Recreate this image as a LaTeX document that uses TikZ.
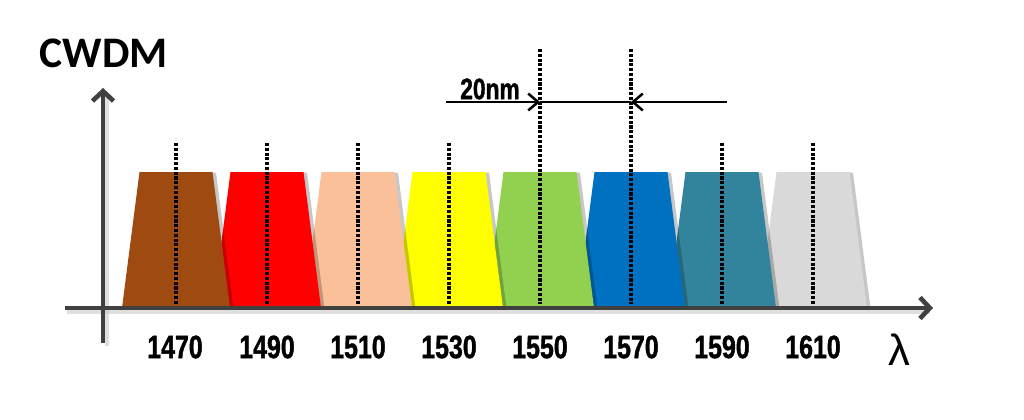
\documentclass[tikz,border=0pt]{standalone}
\usepackage{fontspec}
\setmainfont{Liberation Sans}
\newfontfamily\narrowfont[FakeStretch=0.77,FakeBold=1.2]{Liberation Sans}
\newfontfamily\titlefont{Carlito}
\usepackage{tikz}
\usetikzlibrary{arrows.meta,shadows}

\definecolor{chbrown}{HTML}{9E4A10}
\definecolor{chred}{HTML}{FF0000}
\definecolor{chpeach}{HTML}{F9C09A}
\definecolor{chyellow}{HTML}{FFFF00}
\definecolor{chgreen}{HTML}{92D050}
\definecolor{chblue}{HTML}{0070C0}
\definecolor{chteal}{HTML}{31849B}
\definecolor{chgray}{HTML}{D9D9D9}
\definecolor{axisgray}{HTML}{404040}

\tikzset{
  channel/.style={draw=none,drop shadow={shadow xshift=2.5pt,shadow yshift=-0.5pt,opacity=0.22,fill=black}},
  axis/.style={line width=3.3pt,color=axisgray,-{Straight Barb[length=7pt,width=15pt]}},
  axisshadow/.style={line width=3.5pt,color=black!25,opacity=0.5},
  centerline/.style={line width=2.4pt,dash pattern=on 2.2pt off 1.2pt},
  dimline/.style={line width=1.8pt},
  dimarrow/.style={dimline,-{Straight Barb[length=7pt,width=12pt]}},
  wavelabel/.style={font=\narrowfont\bfseries\fontsize{23}{26}\selectfont}
}

\begin{document}
\begin{tikzpicture}[x=0.025cm,y=-0.025cm]
\useasboundingbox (0,0) rectangle (1024,420);
% channels, drawn right to left so that each one lies over its right neighbour
\fill[channel,chgray] (776.5,172) -- (849.5,172) -- (867,308) -- (759,308) -- cycle;
\fill[channel,chteal] (685.5,172) -- (758.5,172) -- (776,308) -- (668,308) -- cycle;
\fill[channel,chblue] (594.5,172) -- (667.5,172) -- (685,308) -- (577,308) -- cycle;
\fill[channel,chgreen] (503.5,172) -- (576.5,172) -- (594,308) -- (486,308) -- cycle;
\fill[channel,chyellow] (412.5,172) -- (485.5,172) -- (503,308) -- (395,308) -- cycle;
\fill[channel,chpeach] (321.5,172) -- (394.5,172) -- (412,308) -- (304,308) -- cycle;
\fill[channel,chred] (230.5,172) -- (303.5,172) -- (321,308) -- (213,308) -- cycle;
\fill[channel,chbrown] (139.5,172) -- (212.5,172) -- (230,308) -- (122,308) -- cycle;
% centre wavelengths
\draw[centerline] (176,143) -- (176,304);
\draw[centerline] (267,143) -- (267,304);
\draw[centerline] (358,143) -- (358,304);
\draw[centerline] (449,143) -- (449,304);
\draw[centerline] (540,49) -- (540,304);
\draw[centerline] (631,49) -- (631,304);
\draw[centerline] (722,143) -- (722,304);
\draw[centerline] (813,143) -- (813,304);
% axes
\draw[axisshadow] (67,312) -- (930,312);
\draw[axisshadow] (107,346) -- (107,96);
\draw[axis] (65,308) -- (933,308);
\draw[axis] (103,343) -- (103,88);
\node[font=\titlefont\bfseries\fontsize{31}{34}\selectfont] (title) at (104,53) {CWDM};
\node[font=\fontsize{31}{34}\selectfont] (lambda) at (899,350) {λ};
% labels
\node[wavelabel] (l1470) at (175,347) {1470};
\node[wavelabel] (l1490) at (267,347) {1490};
\node[wavelabel] (l1510) at (358,347) {1510};
\node[wavelabel] (l1530) at (449,347) {1530};
\node[wavelabel] (l1550) at (540,347) {1550};
\node[wavelabel] (l1570) at (631,347) {1570};
\node[wavelabel] (l1590) at (722,347) {1590};
\node[wavelabel] (l1610) at (813,347) {1610};
% spacing
\coordinate (dimL) at (446,102);
\coordinate (d1550) at (540,102);
\coordinate (d1570) at (631,102);
\coordinate (dimR) at (727,102);
\draw[dimarrow] (dimL) -- (d1550);
\draw[dimline] (d1550) -- (d1570);
\draw[dimarrow] (dimR) -- (d1570);
\node[font=\narrowfont\bfseries\fontsize{21}{24}\selectfont] (spacing) at (490,89) {20nm};
\end{tikzpicture}
\end{document}
